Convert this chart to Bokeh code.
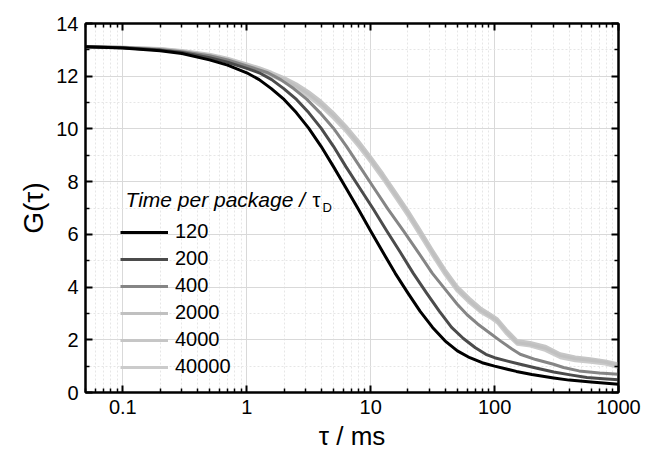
from bokeh.plotting import figure
from bokeh.models import (FixedTicker, LogAxis, LinearAxis, Legend, LegendItem, Label,
                          CustomJSTickFormatter)
from bokeh.embed import file_html
from bokeh.resources import INLINE

# ---------------- data ----------------
tau_120 = [0.05, 0.1, 0.2, 0.3, 0.5, 0.7, 1.0, 1.26, 1.58, 2.0, 2.51, 3.16, 3.98, 5.01, 6.31,
           7.94, 10, 12.6, 15.8, 20, 25.1, 31.6, 39.8, 50.1, 63.1, 79.4, 100, 150, 200, 300,
           400, 600, 1000]
g_120 = [13.12, 13.07, 12.97, 12.86, 12.62, 12.42, 12.13, 11.87, 11.53, 11.12, 10.62, 10.03,
         9.34, 8.57, 7.77, 6.96, 6.13, 5.31, 4.52, 3.77, 3.08, 2.47, 1.96, 1.58, 1.32, 1.13,
         1.0, 0.8, 0.68, 0.55, 0.47, 0.4, 0.31]

tau_200 = [0.05, 0.1, 0.2, 0.3, 0.5, 0.7, 1.0, 1.26, 1.59, 1.99, 2.52, 3.16, 3.98, 5.01, 6.31,
           8.13, 10.5, 13.5, 17.4, 22.1, 28.3, 35.9, 45, 56, 70, 85, 100, 125, 161, 220, 300,
           420, 556, 750, 1000]
g_200 = [13.12, 13.08, 12.99, 12.9, 12.7, 12.53, 12.3, 12.13, 11.87, 11.53, 11.12, 10.62,
         10.03, 9.34, 8.57, 7.77, 6.96, 6.13, 5.31, 4.52, 3.77, 3.08, 2.47, 2.05, 1.7, 1.45,
         1.32, 1.2, 1.07, 0.92, 0.78, 0.66, 0.57, 0.52, 0.48]

tau_400 = [0.05, 0.1, 0.2, 0.3, 0.5, 0.7, 1.0, 1.48, 1.88, 2.39, 3.06, 3.89, 5.01, 6.38, 8.18,
           10.6, 13.8, 18.4, 24.3, 31.5, 42.3, 50, 60, 73, 92, 112, 138, 161, 215, 299, 360,
           480, 700, 1000]
g_400 = [13.12, 13.09, 13.01, 12.93, 12.78, 12.62, 12.39, 12.13, 11.87, 11.53, 11.12, 10.62,
         10.03, 9.34, 8.57, 7.77, 6.96, 6.13, 5.31, 4.52, 3.77, 3.35, 2.95, 2.6, 2.25, 1.95,
         1.65, 1.45, 1.25, 1.07, 0.95, 0.82, 0.74, 0.69]

tau_light = [0.05, 0.1, 0.2, 0.3, 0.5, 0.7, 1.0, 1.26, 1.58, 2.0, 2.51, 3.16, 3.98, 5.01, 6.31,
             7.94, 10, 12.6, 15.8, 20, 25.1, 31.6, 39.8, 50.1, 63.1, 77, 92, 105, 125, 152,
             194, 256, 339, 448, 592, 782, 1000]
g_2000 = [13.12, 13.1, 13.04, 12.96, 12.8, 12.64, 12.42, 12.26, 12.08, 11.87, 11.62, 11.32,
          10.95, 10.51, 10.01, 9.45, 8.84, 8.19, 7.51, 6.80, 6.06, 5.30, 4.56, 3.92, 3.47, 3.12,
          2.9, 2.72, 2.3, 1.89, 1.82, 1.68, 1.4, 1.28, 1.22, 1.15, 1.02]
g_4000 = [13.12, 13.1, 13.05, 12.98, 12.83, 12.68, 12.47, 12.32, 12.15, 11.95, 11.71, 11.41,
          11.05, 10.61, 10.11, 9.55, 8.94, 8.29, 7.61, 6.9, 6.16, 5.4, 4.66, 4.02, 3.56, 3.21,
          2.98, 2.8, 2.38, 1.97, 1.9, 1.76, 1.47, 1.35, 1.28, 1.2, 1.08]
g_40000 = [13.12, 13.09, 13.03, 12.94, 12.77, 12.6, 12.37, 12.2, 12.01, 11.79, 11.53, 11.22,
           10.85, 10.41, 9.91, 9.35, 8.74, 8.09, 7.41, 6.7, 5.96, 5.2, 4.47, 3.84, 3.39, 3.05,
           2.84, 2.65, 2.22, 1.83, 1.76, 1.6, 1.32, 1.2, 1.15, 1.08, 0.95]

labels = ["120", "200", "400", "2000", "4000", "40000"]
colors = ["#000000", "#4b4b4b", "#858585", "#c0c0c0", "#c6c6c6", "#cbcbcb"]

x_major = [0.1, 1, 10, 100, 1000]
x_minor = [0.05, 0.06, 0.07, 0.08, 0.09,
           0.2, 0.3, 0.4, 0.5, 0.6, 0.7, 0.8, 0.9,
           2, 3, 4, 5, 6, 7, 8, 9,
           20, 30, 40, 50, 60, 70, 80, 90,
           200, 300, 400, 500, 600, 700, 800, 900]
y_major = [0, 2, 4, 6, 8, 10, 12, 14]
y_minor = [1, 3, 5, 7, 9, 11, 13]

FONT = "Liberation Sans"

p = figure(width=646, height=453, x_axis_type="log", x_range=(0.05, 1000), y_range=(0, 14),
           output_backend="svg", toolbar_location=None,
           min_border_left=85, min_border_right=28, min_border_top=23, min_border_bottom=60)
p.background_fill_color = "white"
p.border_fill_color = "white"
p.outline_line_color = "black"
p.outline_line_width = 2

bottom = p.below[0]
left = p.left[0]

xt = FixedTicker(ticks=x_major, minor_ticks=x_minor)
yt = FixedTicker(ticks=y_major, minor_ticks=y_minor)

for g, t in ((p.xgrid[0], xt), (p.ygrid[0], yt)):
    g.ticker = t
    g.grid_line_color = "#d9d9d9"
    g.grid_line_width = 1
    g.minor_grid_line_color = "#e6e6e6"
    g.minor_grid_line_dash = "2 2"
    g.minor_grid_line_width = 1

series = [
    ("40000", tau_light, g_40000, colors[5]),
    ("4000", tau_light, g_4000, colors[4]),
    ("2000", tau_light, g_2000, colors[3]),
    ("400", tau_400, g_400, colors[2]),
    ("200", tau_200, g_200, colors[1]),
    ("120", tau_120, g_120, colors[0]),
]
rends = {}
for name, xs, ys, c in series:
    rends[name] = p.line(xs, ys, line_color=c, line_width=3, line_join="round")

top = LogAxis(ticker=xt, formatter=CustomJSTickFormatter(code="return ''"))
right = LinearAxis(ticker=yt, formatter=CustomJSTickFormatter(code="return ''"))
p.add_layout(top, "above")
p.add_layout(right, "right")

bottom.ticker = xt
left.ticker = yt
bottom.formatter = CustomJSTickFormatter(code="return tick.toString()")

for ax in [bottom, left, top, right]:
    ax.axis_line_color = "black"
    ax.axis_line_width = 2
    ax.major_tick_in = 7
    ax.major_tick_out = 0
    ax.minor_tick_in = 4
    ax.minor_tick_out = 0
    ax.major_tick_line_width = 2
    ax.minor_tick_line_width = 1.5
    ax.major_tick_line_color = "black"
    ax.minor_tick_line_color = "black"
    ax.major_label_text_font = FONT
    ax.major_label_text_font_size = "20px"
    ax.major_label_text_color = "black"

top.major_label_standoff = 0
right.major_label_standoff = 0
top.major_label_text_font_size = "1px"
right.major_label_text_font_size = "1px"

bottom.major_label_standoff = 7
left.major_label_standoff = 7
bottom.axis_label = "\u03c4 / ms"
left.axis_label = "G(\u03c4)"
for ax, sz in ((bottom, "26px"), (left, "28px")):
    ax.axis_label_text_font = FONT
    ax.axis_label_text_font_size = sz
    ax.axis_label_text_font_style = "normal"
    ax.axis_label_text_color = "black"
    ax.axis_label_standoff = 4

items = [LegendItem(label=n, renderers=[rends[n]]) for n in labels]
legend = Legend(items=items, location=(35, 14), glyph_width=48, glyph_height=20,
                label_height=20, spacing=4, padding=0, margin=0, label_standoff=7,
                border_line_alpha=0, background_fill_alpha=0,
                label_text_font=FONT, label_text_font_size="20px", label_text_color="black")
p.add_layout(legend)

p.add_layout(Label(x=40, y=193, x_units="screen", y_units="screen",
                   text="Time per package /", text_font=FONT, text_font_size="21px",
                   text_font_style="italic", text_baseline="alphabetic", text_color="black"))
p.add_layout(Label(x=227, y=193, x_units="screen", y_units="screen",
                   text="\u03c4", text_font=FONT, text_font_size="20px",
                   text_baseline="alphabetic", text_color="black"))
p.add_layout(Label(x=237, y=185, x_units="screen", y_units="screen",
                   text="D", text_font=FONT, text_font_size="13px",
                   text_baseline="alphabetic", text_color="black"))

open("out.html", "w").write(file_html(p, INLINE))
